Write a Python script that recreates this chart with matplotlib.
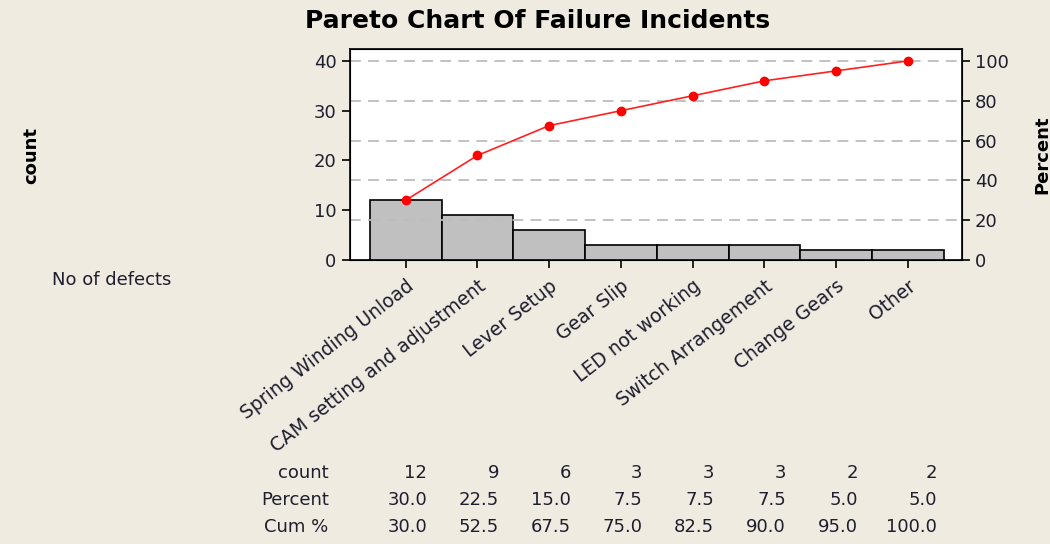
import matplotlib
matplotlib.use("Agg")
import matplotlib.pyplot as plt
import matplotlib.transforms as mtransforms
import numpy as np

# data
defects = ["Spring Winding Unload", "CAM setting and adjustment", "Lever Setup",
           "Gear Slip", "LED not working", "Switch Arrangement", "Change Gears", "Other"]
counts = [12, 9, 6, 3, 3, 3, 2, 2]
percent = [30.0, 22.5, 15.0, 7.5, 7.5, 7.5, 5.0, 5.0]
cum_pct = [30.0, 52.5, 67.5, 75.0, 82.5, 90.0, 95.0, 100.0]

bg = "#efebe1"
txt = "#1e1e2e"
plt.rcParams['font.family'] = ['DejaVu Sans']

fig = plt.figure(figsize=(10.5, 5.44), dpi=100, facecolor=bg)
ax = fig.add_axes([0.333, 0.522, 0.583, 0.388])
ax.set_facecolor("white")

x = np.arange(len(defects))
ax.bar(x, counts, width=1.0, color="#c0c0c0", edgecolor="black", linewidth=1.2, zorder=3)
ax.set_xlim(-0.78, 7.75)
ax.set_ylim(0, 42.4)
ax.set_yticks([0, 10, 20, 30, 40])
ax.set_xticks(x)
ax.set_xticklabels(defects, rotation=38, ha="right", rotation_mode="anchor",
                   fontsize=13.5, color=txt)
ax.tick_params(axis="y", labelsize=13, labelcolor=txt, length=6, width=1.2)
ax.tick_params(axis="x", length=6, width=1.2, pad=6)
for s in ax.spines.values():
    s.set_linewidth(1.2)

ax2 = ax.twinx()
ax2.set_ylim(0, 106)
ax2.set_yticks([0, 20, 40, 60, 80, 100])
ax2.tick_params(axis="y", labelsize=13, labelcolor=txt, length=6, width=1.2)
for v in [20, 40, 60, 80, 100]:
    ax2.axhline(v, color="#bdbdbd", linestyle=(0, (6, 4)), linewidth=1.3, zorder=1)
ax2.plot(x, cum_pct, color="#ff2020", linewidth=1.2, marker="o", markersize=6,
         markerfacecolor="#ff0000", markeredgecolor="#ff0000", zorder=4)
ax.set_zorder(0)
ax2.patch.set_visible(False)

fig.text(0.512, 0.962, "Pareto Chart Of Failure Incidents", ha="center", va="center",
         fontsize=18, fontweight="bold", color="black")
fig.text(0.03, 0.715, "count", rotation=90, ha="center", va="center",
         fontsize=13, fontweight="bold", color="black")
fig.text(0.993, 0.715, "Percent", rotation=90, ha="center", va="center",
         fontsize=13, fontweight="bold", color="black")
fig.text(0.05, 0.485, "No of defects", ha="left", va="center", fontsize=13, color=txt)

# table under the chart
trans = mtransforms.blended_transform_factory(ax.transData, fig.transFigure)
rows = [("count", [str(c) for c in counts], 0.13),
        ("Percent", [f"{p:.1f}" for p in percent], 0.081),
        ("Cum %", [f"{p:.1f}" for p in cum_pct], 0.031)]
for label, vals, yy in rows:
    fig.text(0.313, yy, label, ha="right", va="center", fontsize=13, color=txt)
    for xi, v in zip(x, vals):
        off = 0.3 if xi < len(x) - 1 else 0.4
        fig.text(xi + off, yy, v, transform=trans, ha="right", va="center",
                 fontsize=13, color=txt)

fig.savefig("out.png", dpi=100, facecolor=bg)
